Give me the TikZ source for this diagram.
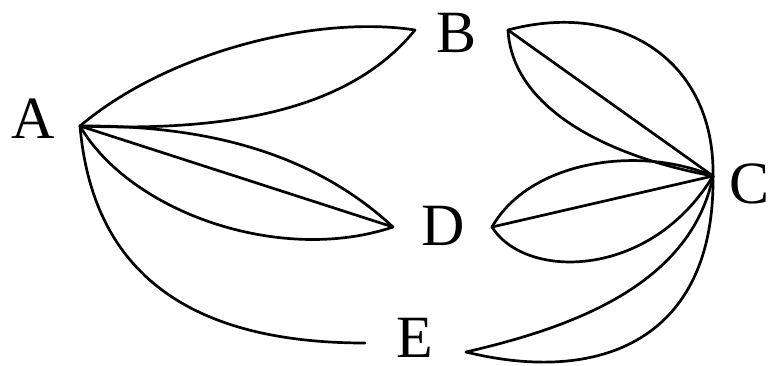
\documentclass[tikz,border=0pt]{standalone}
\usepackage{fontspec}
\setmainfont{Liberation Serif}
\usetikzlibrary{calc}

\begin{document}
\begin{tikzpicture}[x=0.5pt,y=-0.5pt,
    arc/.style={line width=1.35pt, line cap=round, line join=round},
    lbl/.style={anchor=base, inner sep=0pt, font=\fontsize{30}{32}\selectfont}]
    \useasboundingbox (0,0) rectangle (775,365);
    % end points of the arcs
    \coordinate (a) at (80,126);
    \coordinate (bl) at (415,30);
    \coordinate (br) at (508,30);
    \coordinate (c) at (713,176);
    \coordinate (dl) at (393,227);
    \coordinate (dr) at (492,227);
    \coordinate (el) at (365,343);
    \coordinate (er) at (466,352);
    % labels
    \node[lbl] (A) at (33,138) {A};
    \node[lbl] (B) at (457,52) {B};
    \node[lbl] (C) at (749,203) {C};
    \node[lbl] (D) at (443,245) {D};
    \node[lbl] (E) at (415,357) {E};
    % A to B, D, E
    \draw[arc] (a) .. controls (170,50) and (320,15) .. (bl);
    \draw[arc] (a) .. controls (230,132) and (350,110) .. (bl);
    \draw[arc] (a) .. controls (200,125) and (310,150) .. (dl);
    \draw[arc] (a) -- (dl);
    \draw[arc] (a) .. controls (130,212) and (280,265) .. (dl);
    \draw[arc] (a) .. controls (92,265) and (180,343) .. (el);
    % B, D, E to C
    \draw[arc] (br) .. controls (620,0) and (715,60) .. (c);
    \draw[arc] (br) -- (c);
    \draw[arc] (br) .. controls (512,105) and (600,155) .. (c);
    \draw[arc] (dr) .. controls (530,160) and (640,145) .. (c);
    \draw[arc] (dr) -- (c);
    \draw[arc] (dr) .. controls (525,280) and (650,280) .. (c);
    \draw[arc] (er) .. controls (560,330) and (690,290) .. (c);
    \draw[arc] (er) .. controls (600,385) and (715,340) .. (c);
\end{tikzpicture}
\end{document}
